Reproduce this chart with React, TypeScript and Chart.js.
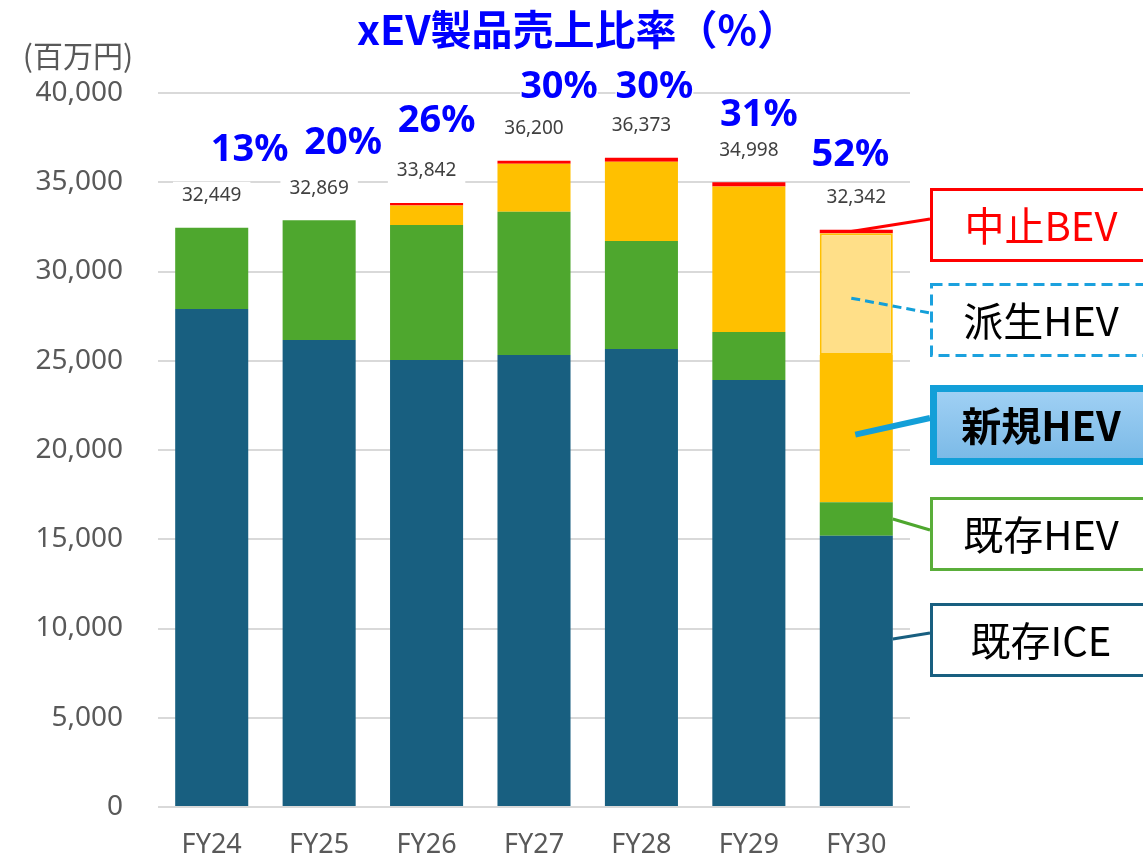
import React, { useEffect, useRef } from 'react';
import { Chart, registerables } from 'chart.js';

Chart.register(...registerables);

// ---------- data ----------
const categories = ['FY24', 'FY25', 'FY26', 'FY27', 'FY28', 'FY29', 'FY30'];
const iceExisting = [27900, 26160, 25040, 25320, 25660, 23920, 15200];
const hevExisting = [4549, 6709, 7565, 8030, 6050, 2690, 1870];
const hevNew = [0, 0, 1087, 2680, 4443, 8158, 8250];
const hevDerived = [0, 0, 0, 0, 0, 0, 6822];
const bevCancelled = [0, 0, 150, 170, 220, 230, 200];
const totals = [32449, 32869, 33842, 36200, 36373, 34998, 32342];
const xevShare = [13, 20, 26, 30, 30, 31, 52];
const yMax = 40000;
const yStep = 5000;
const titleText = 'xEV製品売上比率（%）';
const unitText = '(百万円)';
const seriesNames = ['既存ICE', '既存HEV', '新規HEV', '派生HEV', '中止BEV'];

// ---------- style ----------
const W = 1143;
const H = 859;
const C_ICE = '#185F80';
const C_HEV = '#4EA72E';
const C_NEW = '#FFC000';
const C_DER = '#FFDF88';
const C_BEV = '#FF0000';
const C_BLUE = '#139FD8';
const LATIN = '"Noto Sans", "DejaVu Sans", sans-serif';
const CJK = '"Noto Sans CJK JP", "Noto Sans", sans-serif';
// share-label placement nudges relative to each bar top (presentation only)
const shareNudgeX = [38, 24, 10, 25, 13, 10, -6];
const shareNudgeY = [78, 77, 82, 74, 71, 67, 75];

const labelPlugin = {
  id: 'labels',
  afterDatasetsDraw(chart: any) {
    const ctx = chart.ctx;
    const xs = chart.scales.x;
    const ys = chart.scales.y;
    ctx.save();
    ctx.textAlign = 'center';
    ctx.textBaseline = 'middle';
    totals.forEach((t, i) => {
      const cx = xs.getPixelForValue(i);
      const top = ys.getPixelForValue(t);
      // total value label
      ctx.font = `19px ${LATIN}`;
      const s = t.toLocaleString('en-US');
      const w = ctx.measureText(s).width;
      ctx.fillStyle = '#ffffff';
      ctx.fillRect(cx - w / 2 - 9, top - 32 - 14, w + 18, 28);
      ctx.fillStyle = '#404040';
      ctx.fillText(s, cx, top - 32);
      // share label
      ctx.font = `bold 38px ${LATIN}`;
      const p = `${xevShare[i]}%`;
      const pw = ctx.measureText(p).width;
      const px = cx + shareNudgeX[i];
      const py = top - shareNudgeY[i];
      ctx.fillStyle = '#ffffff';
      ctx.fillRect(px - pw / 2, py - 14, pw, 28);
      ctx.fillStyle = '#0000FF';
      ctx.fillText(p, px, py);
    });
    ctx.restore();
  },
  afterDraw(chart: any) {
    const ctx = chart.ctx;
    const area = chart.chartArea;
    ctx.save();
    // title
    ctx.textAlign = 'center';
    ctx.textBaseline = 'middle';
    ctx.fillStyle = '#0000FF';
    ctx.font = `bold 41px ${CJK}`;
    ctx.fillText(titleText, W / 2 + 6, 29);
    // unit
    ctx.fillStyle = '#595959';
    ctx.font = `30px ${CJK}`;
    ctx.fillText(unitText, 78, 56);

    // callout boxes for the FY30 bar
    const last = categories.length - 1;
    const el = (d: number) => chart.getDatasetMeta(d).data[last] as any;
    const boxLeft = area.right + 20;
    const boxW = 240;
    const centers = [640, 534, 425, 320, 225];
    const boxH = 74;

    const line = (x1: number, y1: number, x2: number, y2: number, color: string, lw: number, dash: number[] = []) => {
      ctx.beginPath();
      ctx.setLineDash(dash);
      ctx.strokeStyle = color;
      ctx.lineWidth = lw;
      ctx.moveTo(x1, y1);
      ctx.lineTo(x2, y2);
      ctx.stroke();
      ctx.setLineDash([]);
    };

    // leader lines
    const eIce = el(0), eHev = el(1), eNew = el(2), eDer = el(3), eBev = el(4);
    line(eIce.x + eIce.width / 2, centers[0] - 1, boxLeft, centers[0] - 7, C_ICE, 3);
    line(eHev.x + eHev.width / 2, (eHev.y + eHev.base) / 2, boxLeft, centers[1] - 4, C_HEV, 3);
    line(eNew.x - 1, (eNew.y + eNew.base) / 2 + 6, boxLeft, centers[2] - 7, C_BLUE, 6);
    line(eDer.x - 5, (eDer.y + eDer.base) / 2 + 4, boxLeft, centers[3] - 7, C_BLUE, 3, [9, 5]);
    line(eBev.x - 5, (eBev.y + eBev.base) / 2, boxLeft, centers[4] - 6, C_BEV, 3);

    const drawBox = (i: number, border: string, lw: number, textColor: string, bold: boolean, dash: number[] = [], fill?: CanvasGradient | string, h = boxH) => {
      const cy = centers[i];
      const top = cy - h / 2;
      ctx.fillStyle = fill || '#ffffff';
      ctx.fillRect(boxLeft, top, boxW, h);
      ctx.setLineDash(dash);
      ctx.strokeStyle = border;
      ctx.lineWidth = lw;
      ctx.strokeRect(boxLeft + lw / 2, top + lw / 2, boxW - lw, h - lw);
      ctx.setLineDash([]);
      ctx.fillStyle = textColor;
      ctx.font = `${bold ? 'bold ' : ''}40px ${CJK}`;
      ctx.textAlign = 'center';
      ctx.textBaseline = 'middle';
      ctx.fillText(seriesNames[i], boxLeft + 111, cy + 1);
    };

    drawBox(0, C_ICE, 3, '#000000', false);
    drawBox(1, '#5AAE3A', 3, '#000000', false);
    const g = ctx.createLinearGradient(0, centers[2] - 40, 0, centers[2] + 40);
    g.addColorStop(0, '#A3D2F5');
    g.addColorStop(1, '#78B8E6');
    drawBox(2, C_BLUE, 7, '#000000', true, [], g, 80);
    drawBox(3, '#1BA1DE', 3, '#000000', false, [11, 6]);
    drawBox(4, C_BEV, 3, '#FF0000', false);
    ctx.restore();
  },
};

export default function App() {
  const ref = useRef<HTMLCanvasElement | null>(null);

  useEffect(() => {
    document.body.style.margin = '0';
    if (!ref.current) return;
    const chart = new Chart(ref.current, {
      type: 'bar',
      data: {
        labels: categories,
        datasets: [
          { label: seriesNames[0], data: iceExisting, backgroundColor: C_ICE, borderWidth: 0 },
          { label: seriesNames[1], data: hevExisting, backgroundColor: C_HEV, borderWidth: 0 },
          { label: seriesNames[2], data: hevNew, backgroundColor: C_NEW, borderWidth: 0 },
          {
            label: seriesNames[3],
            data: hevDerived,
            backgroundColor: C_DER,
            borderColor: C_NEW,
            borderWidth: 2,
            borderSkipped: false,
          },
          { label: seriesNames[4], data: bevCancelled, backgroundColor: C_BEV, borderWidth: 0 },
        ],
      },
      options: {
        responsive: false,
        animation: false,
        devicePixelRatio: 1,
        layout: { padding: { top: 93, right: W - 910, left: 0, bottom: 0 } },
        datasets: { bar: { categoryPercentage: 1, barPercentage: 0.68 } },
        plugins: {
          legend: { display: false },
          tooltip: { enabled: false },
          title: { display: false },
        },
        scales: {
          x: {
            stacked: true,
            grid: { display: false, drawTicks: false },
            border: { display: false },
            ticks: { color: '#595959', font: { family: LATIN, size: 27 }, padding: 22 },
            afterFit: (s: any) => { s.height = 52; },
          },
          y: {
            stacked: true,
            min: 0,
            max: yMax,
            grid: { color: '#D9D9D9', lineWidth: 2, drawTicks: false },
            border: { display: false },
            ticks: {
              stepSize: yStep,
              color: '#595959',
              font: { family: LATIN, size: 28 },
              padding: 35,
              callback: (v: any) => Number(v).toLocaleString('en-US'),
            },
            afterFit: (s: any) => { s.width = 158; },
          },
        },
      },
      plugins: [labelPlugin],
    } as any);
    return () => chart.destroy();
  }, []);

  return (
    <div style={{ width: W, height: H, position: 'relative', background: '#ffffff' }}>
      <canvas ref={ref} width={W} height={H} style={{ display: 'block', width: W, height: H }} />
    </div>
  );
}
